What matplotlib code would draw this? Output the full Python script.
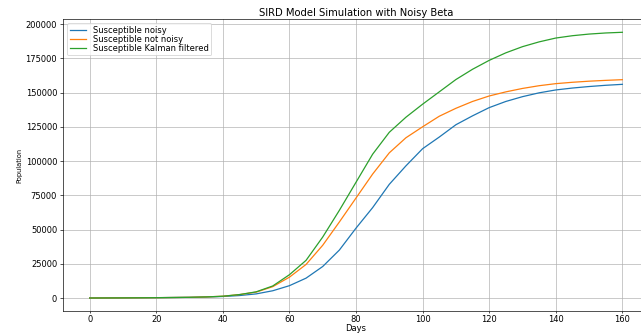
import numpy as np
import matplotlib
matplotlib.use("Agg")
import matplotlib.pyplot as plt

days = [0, 10, 20, 30, 35, 40, 45, 50, 55, 60, 65, 70, 75, 80, 85, 90, 95,
        100, 105, 110, 115, 120, 125, 130, 135, 140, 145, 150, 155, 160]

s_noisy = [0, 100, 250, 500, 750, 1100, 1800, 3000, 5300, 9000, 14500, 23000,
           35000, 51000, 66000, 83000, 96500, 109000, 117500, 126500, 133000,
           139000, 143500, 147000, 149800, 151900, 153300, 154400, 155300, 156000]

s_not_noisy = [0, 100, 250, 500, 800, 1300, 2500, 4300, 8300, 15200, 24500,
               38500, 55500, 73000, 90500, 106000, 117000, 125000, 132700,
               138500, 143500, 147500, 150500, 153000, 155000, 156500, 157500,
               158300, 158900, 159400]

s_kalman = [0, 100, 250, 500, 800, 1300, 2500, 4500, 8800, 17000, 27500, 44500,
            64000, 84500, 105000, 121000, 132000, 141500, 150500, 159500,
            167000, 173500, 179000, 183500, 187000, 189800, 191500, 192700,
            193500, 194000]

fig = plt.figure(figsize=(641 / 60, 335 / 60), dpi=60)
# axes run past the right edge, like the cropped original
ax = fig.add_axes([63 / 641, 23.7 / 335, 586 / 641, 292.3 / 335])

ax.plot(days, s_noisy, label="Susceptible noisy")
ax.plot(days, s_not_noisy, label="Susceptible not noisy")
ax.plot(days, s_kalman, label="Susceptible Kalman filtered")

ax.set_title("SIRD Model Simulation with Noisy Beta", pad=4)
ax.set_xlabel("Days", labelpad=0)
ax.set_ylabel("Population", fontsize=8, labelpad=4)
ax.set_xticks(np.arange(0, 161, 20))
ax.set_yticks(np.arange(0, 200001, 25000))
ax.tick_params(axis="x", length=2.4, pad=1.5)
ax.grid(True)
ax.legend(loc="upper left", labelspacing=0.0, borderpad=0.3)

fig.savefig("out.png", dpi=60)
